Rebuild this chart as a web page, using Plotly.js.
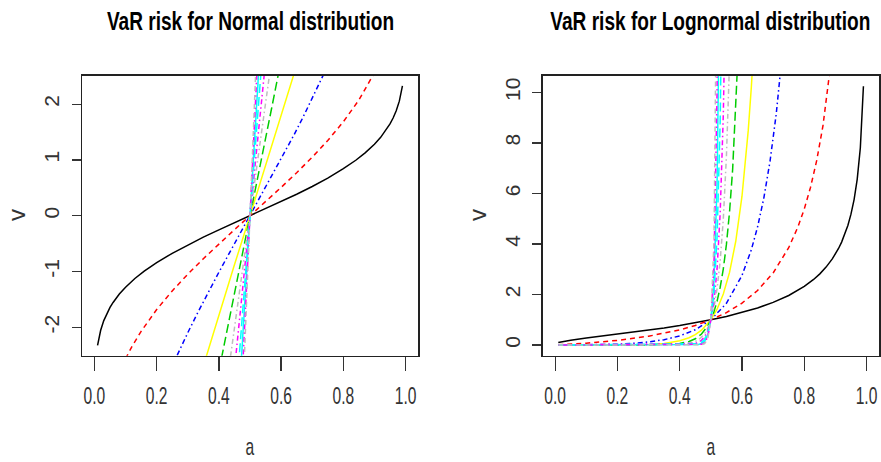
<!DOCTYPE html>
<html><head><meta charset="utf-8">
<script src="https://cdn.plot.ly/plotly-3.0.1.min.js"></script>
<style>html,body{margin:0;padding:0;background:#fff}#chart{width:881px;height:462px}</style>
</head><body><div id="chart"></div>
<script>
// ---------- data ----------
const sdLabels = [1, 2, 4, 7, 11, 16, 22, 29, 37, 46, 56];

// Normal panel: a values and v values per curve
const normA1 = [0.01,0.02,0.03,0.04,0.05,0.06,0.08,0.10,0.13,0.16,0.20,0.25,0.30,0.35,0.40,0.45,0.50,0.55,0.60,0.65,0.70,0.75,0.80,0.84,0.87,0.90,0.92,0.94,0.95,0.96,0.97,0.98,0.99];
const normV1 = [-2.326,-2.054,-1.881,-1.751,-1.645,-1.555,-1.405,-1.282,-1.126,-0.994,-0.842,-0.674,-0.524,-0.385,-0.253,-0.126,0,0.126,0.253,0.385,0.524,0.674,0.842,0.994,1.126,1.282,1.405,1.555,1.645,1.751,1.881,2.054,2.326];
const normA2 = [0.10,0.12,0.15,0.20,0.25,0.30,0.35,0.40,0.45,0.50,0.55,0.60,0.65,0.70,0.75,0.80,0.85,0.88,0.90];
const normV2 = [-2.563,-2.350,-2.073,-1.683,-1.349,-1.049,-0.771,-0.507,-0.251,0,0.251,0.507,0.771,1.049,1.349,1.683,2.073,2.350,2.563];
const normA4 = [0.26,0.28,0.30,0.33,0.36,0.40,0.45,0.50,0.55,0.60,0.64,0.67,0.70,0.72,0.74];
const normV4 = [-2.573,-2.331,-2.098,-1.760,-1.434,-1.013,-0.503,0,0.503,1.013,1.434,1.760,2.098,2.331,2.573];
const normA7 = [0.35,0.40,0.45,0.50,0.55,0.60,0.65];
const normV7 = [-2.697,-1.773,-0.880,0,0.880,1.773,2.697];
const normA11 = [0.40,0.43,0.47,0.50,0.53,0.57,0.60];
const normV11 = [-2.787,-1.940,-0.828,0,0.828,1.940,2.787];
const normA16 = [0.43,0.46,0.50,0.54,0.57];
const normV16 = [-2.822,-1.607,0,1.607,2.822];
const normA22 = [0.45,0.50,0.55];
const normV22 = [-2.765,0,2.765];
const normA29 = [0.46,0.50,0.54];
const normV29 = [-2.912,0,2.912];
const normA37 = [0.47,0.50,0.53];
const normV37 = [-2.785,0,2.785];
const normA46 = [0.47,0.48,0.50,0.52,0.53];
const normV46 = [-3.462,-2.307,0,2.307,3.462];
const normA56 = [0.47,0.48,0.50,0.52,0.53];
const normV56 = [-4.215,-2.808,0,2.808,4.215];

// Lognormal panel
const logA1 = [0.01,0.05,0.10,0.15,0.20,0.25,0.30,0.35,0.40,0.45,0.50,0.55,0.60,0.65,0.70,0.75,0.80,0.83,0.85,0.87,0.89,0.90,0.91,0.92,0.93,0.94,0.95,0.96,0.97,0.98,0.99];
const logV1 = [0.098,0.193,0.278,0.355,0.431,0.509,0.592,0.680,0.776,0.882,1,1.134,1.288,1.470,1.690,1.963,2.320,2.597,2.819,3.085,3.409,3.602,3.822,4.076,4.375,4.734,5.180,5.759,6.559,7.798,10.240];
const logA2 = [0.01,0.05,0.10,0.20,0.30,0.40,0.45,0.50,0.55,0.60,0.65,0.70,0.75,0.78,0.80,0.82,0.84,0.86,0.88,0.89];
const logV2 = [0.010,0.037,0.077,0.186,0.350,0.603,0.778,1,1.286,1.660,2.161,2.854,3.854,4.685,5.383,6.238,7.308,8.676,10.485,11.623];
const logA4 = [0.01,0.10,0.20,0.25,0.30,0.35,0.40,0.45,0.50,0.55,0.60,0.63,0.65,0.67,0.69,0.71,0.72,0.73];
const logV4 = [0.000,0.006,0.035,0.067,0.123,0.214,0.363,0.605,1,1.653,2.755,3.771,4.671,5.810,7.267,9.148,10.292,11.602];
const logA7 = [0.01,0.20,0.30,0.35,0.40,0.43,0.45,0.47,0.50,0.52,0.54,0.56,0.58,0.60,0.61,0.62,0.63,0.64];
const logV7 = [0.000,0.003,0.025,0.067,0.170,0.291,0.415,0.590,1,1.420,2.020,2.877,4.109,5.891,7.065,8.486,10.205,12.295];
const logA11 = [0.01,0.30,0.40,0.43,0.45,0.47,0.49,0.50,0.51,0.52,0.53,0.54,0.55,0.56,0.57,0.58,0.59];
const logV11 = [0.000,0.003,0.062,0.144,0.251,0.437,0.759,1,1.318,1.736,2.289,3.018,3.984,5.263,6.959,9.214,12.218];
const logA16 = [0.01,0.40,0.44,0.46,0.48,0.49,0.50,0.51,0.52,0.53,0.54,0.55,0.56];
const logV16 = [0.000,0.017,0.089,0.201,0.448,0.670,1,1.494,2.231,3.334,4.987,7.468,11.196];
const logA22 = [0.01,0.45,0.46,0.47,0.48,0.49,0.50,0.51,0.52,0.53,0.54,0.55];
const logV22 = [0.000,0.063,0.110,0.191,0.332,0.576,1,1.736,3.014,5.238,9.111,15.871];
const logA29 = [0.01,0.45,0.46,0.47,0.48,0.49,0.50,0.51,0.52,0.53,0.54];
const logV29 = [0.000,0.026,0.054,0.113,0.234,0.483,1,2.069,4.282,8.872,18.402];
const logA37 = [0.01,0.46,0.47,0.48,0.49,0.50,0.51,0.52,0.53];
const logV37 = [0.000,0.024,0.062,0.156,0.396,1,2.528,6.396,16.199];
const logA46 = [0.01,0.47,0.48,0.49,0.50,0.51,0.52,0.53];
const logV46 = [0.000,0.031,0.100,0.316,1,3.168,10.043,31.890];
const logA56 = [0.01,0.47,0.48,0.49,0.50,0.51,0.52];
const logV56 = [0.000,0.015,0.060,0.246,1,4.071,16.583];

const aTicks = [0, 0.2, 0.4, 0.6, 0.8, 1.0];
const aTickText = ['0.0', '0.2', '0.4', '0.6', '0.8', '1.0'];
const normTicks = [-2, -1, 0, 1, 2];
const normTickText = ['-2', '-1', '0', '1', '2'];
const logTicks = [0, 2, 4, 6, 8, 10];
const logTickText = ['0', '2', '4', '6', '8', '10'];

// ---------- styles ----------
const seriesColors = ['#000000','#FF0000','#0000FF','#FFFF00','#00CD00','#BEBEBE','#FF00FF','#00FFFF','#00FFFF','#FF00FF','#BEBEBE'];
const seriesDash = ['solid','dash','dotdash','solid','longdash','dotdash','dotdash','longdash','solid','dotdash','dash'];
const dashMap = {solid:'solid', dash:'5px,4px', dotdash:'1.5px,3px,5px,3px', longdash:'9px,4px'};

const normX = [normA1,normA2,normA4,normA7,normA11,normA16,normA22,normA29,normA37,normA46,normA56];
const normY = [normV1,normV2,normV4,normV7,normV11,normV16,normV22,normV29,normV37,normV46,normV56];
const logX = [logA1,logA2,logA4,logA7,logA11,logA16,logA22,logA29,logA37,logA46,logA56];
const logY = [logV1,logV2,logV4,logV7,logV11,logV16,logV22,logV29,logV37,logV46,logV56];

const traces = [];
sdLabels.forEach((sd, i) => {
  traces.push({x: normX[i], y: normY[i], xaxis: 'x', yaxis: 'y', type: 'scatter', mode: 'lines',
    name: 'sd ' + sd, line: {color: seriesColors[i], width: 1.5, dash: dashMap[seriesDash[i]]}, hoverinfo: 'skip'});
});
sdLabels.forEach((sd, i) => {
  traces.push({x: logX[i], y: logY[i], xaxis: 'x2', yaxis: 'y2', type: 'scatter', mode: 'lines',
    name: 'sd ' + sd, line: {color: seriesColors[i], width: 1.5, dash: dashMap[seriesDash[i]]}, hoverinfo: 'skip'});
});

const fontFam = '"Liberation Sans", Arial, sans-serif';
const W = 881, H = 462;
const px = v => v / W;
const py = v => (H - v) / H;

function xAxis(dom, anchor) {
  return {domain: dom, anchor: anchor, range: [-0.04, 1.04], tickmode: 'array', tickvals: aTicks, ticktext: aTickText,
    ticks: 'outside', ticklen: 14, tickwidth: 1.3, tickcolor: '#333', showline: true, mirror: true,
    linecolor: '#222', linewidth: 1.5, showgrid: false, zeroline: false, fixedrange: true,
    tickfont: {family: fontFam, size: 24, color: '#333'}, ticklabelstandoff: 4, ticklabeloverflow: 'allow'};
}
function yAxis(dom, anchor, range, tv, tt) {
  return {domain: dom, anchor: anchor, range: range, tickmode: 'array', tickvals: tv, ticktext: tt,
    tickangle: -90, ticks: 'outside', ticklen: 9, tickwidth: 1.3, tickcolor: '#333', showline: true, mirror: true,
    linecolor: '#222', linewidth: 1.5, showgrid: false, zeroline: false, fixedrange: true,
    tickfont: {family: fontFam, size: 21, color: '#333'}, ticklabelstandoff: 4, ticklabeloverflow: 'allow'};
}
const yDom = [py(355.7), py(75.7)];
const layout = {
  width: W, height: H, margin: {l: 0, r: 0, t: 0, b: 0}, showlegend: false,
  paper_bgcolor: '#ffffff', plot_bgcolor: '#ffffff',
  xaxis: xAxis([px(82), px(418)], 'y'),
  yaxis: yAxis(yDom, 'x', [-2.51, 2.51], normTicks, normTickText),
  xaxis2: xAxis([px(542.7), px(879)], 'y2'),
  yaxis2: yAxis(yDom, 'x2', [-0.42, 10.66], logTicks, logTickText),
  annotations: [
    {text: 'VaR risk for Normal distribution', xref: 'paper', yref: 'paper', x: px(250), y: py(38.3), xanchor: 'center', yanchor: 'bottom', showarrow: false, font: {family: fontFam, size: 26.5, color: '#000', weight: 'bold'}},
    {text: 'VaR risk for Lognormal distribution', xref: 'paper', yref: 'paper', x: px(710.9), y: py(38.3), xanchor: 'center', yanchor: 'bottom', showarrow: false, font: {family: fontFam, size: 26.5, color: '#000', weight: 'bold'}},
    {text: 'a', xref: 'paper', yref: 'paper', x: px(250), y: py(462), xanchor: 'center', yanchor: 'bottom', showarrow: false, font: {family: fontFam, size: 24, color: '#333'}},
    {text: 'a', xref: 'paper', yref: 'paper', x: px(710.9), y: py(462), xanchor: 'center', yanchor: 'bottom', showarrow: false, font: {family: fontFam, size: 24, color: '#333'}},
    {text: 'v', xref: 'paper', yref: 'paper', x: px(17), y: py(215), xanchor: 'center', yanchor: 'middle', textangle: -90, showarrow: false, font: {family: fontFam, size: 24, color: '#333'}},
    {text: 'v', xref: 'paper', yref: 'paper', x: px(478), y: py(215), xanchor: 'center', yanchor: 'middle', textangle: -90, showarrow: false, font: {family: fontFam, size: 24, color: '#333'}}
  ]
};

function condense(nodes, f) {
  nodes.forEach(t => {
    const b = t.getBBox();
    const cx = b.x + b.width / 2;
    const tr = t.getAttribute('transform') || '';
    t.setAttribute('transform', tr + ' translate(' + cx + ',0) scale(' + f + ',1) translate(' + (-cx) + ',0)');
  });
}

Plotly.newPlot('chart', traces, layout, {staticPlot: true, displayModeBar: false}).then(gd => {
  condense(gd.querySelectorAll('.xtick text, .x2tick text'), 0.65);
  [0, 1].forEach(i => condense(gd.querySelectorAll('.annotation[data-index="' + i + '"] text'), 0.72));
  [2, 3].forEach(i => condense(gd.querySelectorAll('.annotation[data-index="' + i + '"] text'), 0.65));
});
</script>
</body></html>
